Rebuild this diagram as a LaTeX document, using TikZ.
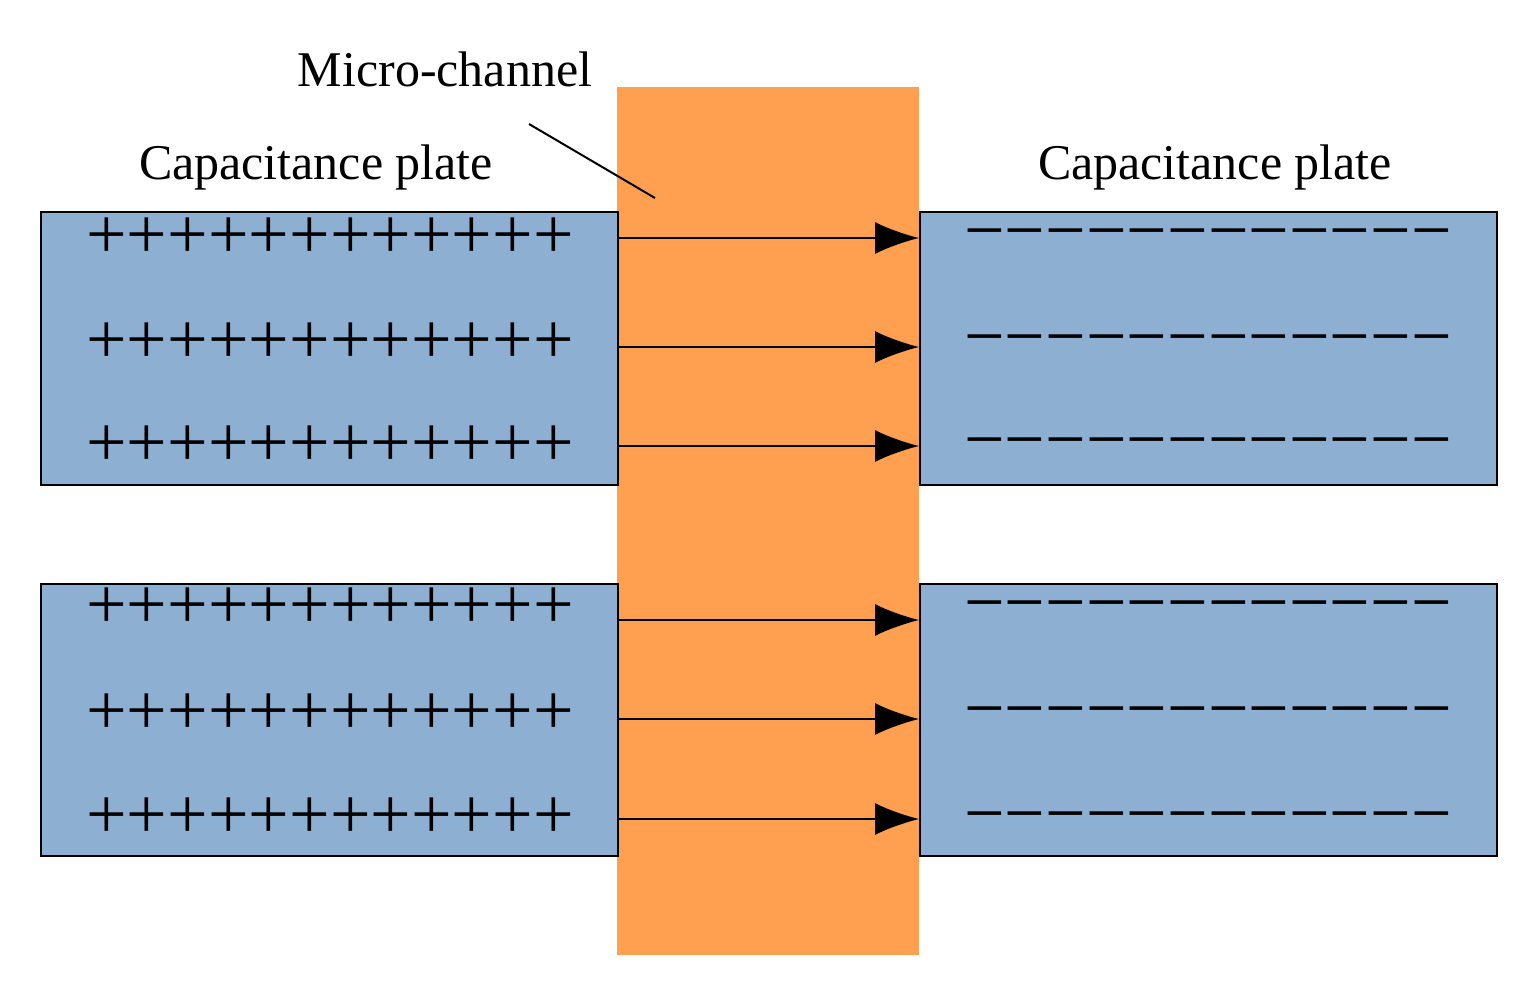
\documentclass[tikz,border=0pt]{standalone}
\usepackage{fontspec}
\setmainfont{Liberation Serif}
\usetikzlibrary{arrows.meta}
\definecolor{plate}{HTML}{8DAFD1}
\definecolor{chan}{HTML}{FF9F50}
\begin{document}
\begin{tikzpicture}[x=0.5pt,y=-0.5pt,
  plate/.style={draw=black,line width=1pt,fill=plate},
  sign/.style={font=\fontsize{36}{36}\selectfont,inner sep=0pt,anchor=center},
  lab/.style={font=\fontsize{25}{30}\selectfont,inner sep=0pt},
  fld/.style={line width=0.8pt,-{Latex[length=22pt,width=16pt]}}]
\useasboundingbox (0,0) rectangle (1540,990);
\fill[chan] (617,87) rectangle (919,955);
\node[plate,minimum width=577*0.5pt,minimum height=273*0.5pt,inner sep=0pt,anchor=north west] (L1) at (40,211) {};
\node[plate,minimum width=577*0.5pt,minimum height=272*0.5pt,inner sep=0pt,anchor=north west] (L2) at (40,583) {};
\node[plate,minimum width=577*0.5pt,minimum height=273*0.5pt,inner sep=0pt,anchor=north west] (R1) at (919,211) {};
\node[plate,minimum width=577*0.5pt,minimum height=272*0.5pt,inner sep=0pt,anchor=north west] (R2) at (919,583) {};
\foreach \y/\n in {238/a,347/b,446/c,620/d,719/e,819/f}{
  \coordinate (s\n) at (617,\y); \coordinate (t\n) at (919,\y);
  \draw[fld] (s\n) -- (t\n);}
\foreach \y [count=\i] in {238,343,446,608,714,818}
  \node[sign] (p\i) at (330,\y) {++++++++++++};
\foreach \y [count=\i] in {234,340,443,606,712,817}
  \node[sign] (m\i) at (1208,\y+8) {−−−−−−−−−−−−};
\node[lab] (cl) at (316,167) {Capacitance plate};
\node[lab] (cr) at (1215,167) {Capacitance plate};
\node[lab] (mc) at (445,69) {Micro-channel};
\coordinate (mcs) at (529,124); \coordinate (mce) at (655,198);
\draw[line width=1pt] (mcs) -- (mce);
\end{tikzpicture}
\end{document}
